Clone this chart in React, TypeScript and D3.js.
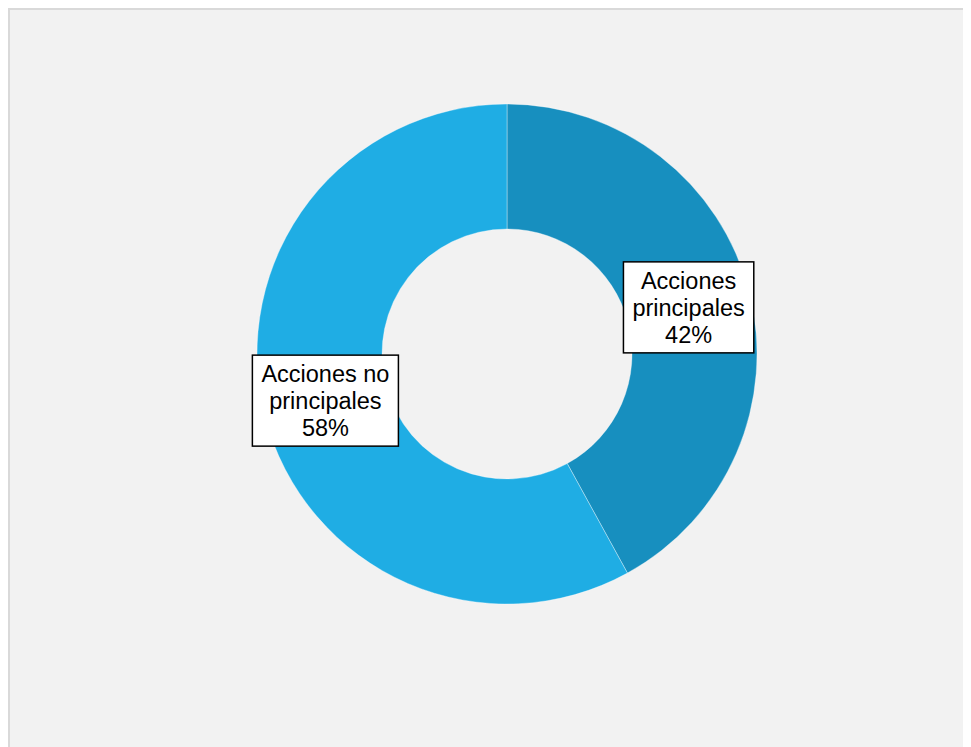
import React, { useEffect, useRef } from "react";
import * as d3 from "d3";

const categories = ["Acciones principales", "Acciones no principales"];
const values = [42, 58];
const labelLines = [["Acciones", "principales", "42%"], ["Acciones no", "principales", "58%"]];
const colors = ["#178fbf", "#1fade4"];

const W = 1000;
const H = 760;

export default function App() {
  const ref = useRef<SVGSVGElement>(null);
  useEffect(() => {
    document.documentElement.style.overflow = "hidden";
    document.body.style.overflow = "hidden";
    const svg = d3.select(ref.current);
    svg.selectAll("*").remove();
    svg.append("rect").attr("x", 1).attr("y", 1).attr("width", W + 40).attr("height", H + 40)
      .attr("fill", "#f2f2f2").attr("stroke", "#d9d9d9").attr("stroke-width", 2);
    const cx = 499, cy = 346;
    const outer = 250, inner = 125;
    const g = svg.append("g").attr("transform", `translate(${cx},${cy})`);
    const pie = d3.pie<number>().sort(null).value((d) => d);
    const arcs = pie(values);
    const arc = d3.arc<d3.PieArcDatum<number>>().innerRadius(inner).outerRadius(outer);
    g.selectAll("path.slice").data(arcs).enter().append("path")
      .attr("d", arc as any)
      .attr("fill", (_d, i) => colors[i])
      .attr("stroke", "#ffffff").attr("stroke-opacity", 0.35).attr("stroke-width", 1);
    const lh = 27;
    arcs.forEach((a, i) => {
      const [x, y] = arc.centroid(a);
      const lg = g.append("g").attr("transform", `translate(${x},${y})`);
      const rect = lg.append("rect").attr("fill", "#ffffff").attr("stroke", "#000000").attr("stroke-width", 1.5);
      const t = lg.append("text").attr("text-anchor", "middle")
        .attr("font-family", "Liberation Sans, Arial, sans-serif").attr("font-size", 23.5).attr("fill", "#000");
      const lines = labelLines[i];
      lines.forEach((ln, j) => {
        t.append("tspan").attr("x", 0).attr("y", (j - (lines.length - 1) / 2) * lh).attr("dy", "0.35em").text(ln);
      });
      const bb = (t.node() as SVGTextElement).getBBox();
      const padX = 9;
      const hh = lh * lines.length + 10;
      rect.attr("x", -bb.width / 2 - padX).attr("y", -hh / 2)
        .attr("width", bb.width + 2 * padX).attr("height", hh);
    });
    svg.attr("aria-label", categories.join(", "));
  }, []);
  return (
    <div style={{ width: 963, height: 739, overflow: "hidden" }}>
      <svg ref={ref} width={W} height={H} style={{ display: "block" }} />
    </div>
  );
}
